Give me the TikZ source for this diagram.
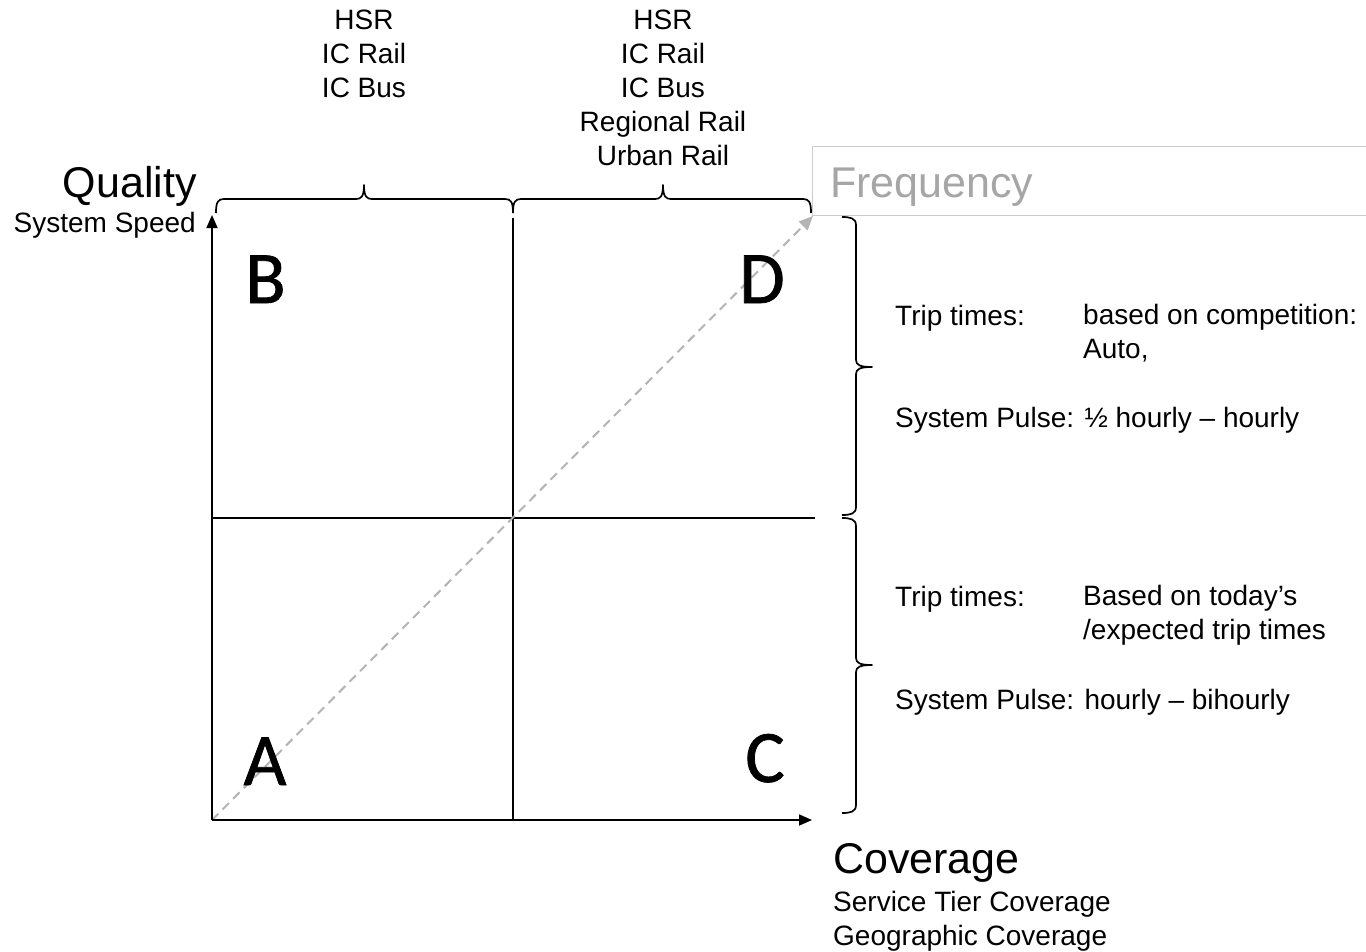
\documentclass[tikz,border=0pt]{standalone}
\usepackage{fontspec}
\setmainfont{Liberation Sans}
\newfontfamily\letterfont[FakeBold=1.0]{Carlito}
\usetikzlibrary{arrows.meta}
\definecolor{diaggray}{HTML}{B4B4B4}
\definecolor{freqgray}{HTML}{A6A6A6}
\definecolor{boxgray}{HTML}{CCCCCC}
\newcommand{\TopBrace}[3]{%
  \draw[bracepath] (#1,213) .. controls (#1,202) and ({#1+2},199) .. ({#1+8},199)
    -- ({#2-8},199) .. controls ({#2-3},199) and (#2,197) .. (#2,185)
    .. controls (#2,197) and ({#2+3},199) .. ({#2+8},199)
    -- ({#3-8},199) .. controls ({#3-2},199) and (#3,202) .. (#3,213);}
\newcommand{\RightBrace}[3]{%
  \draw[bracepath] (842,#1) .. controls (850,#1) and (856,{#1+1}) .. (856,{#1+8})
    -- (856,{#2-7}) .. controls (856,{#2-2}) and (860,#2) .. (872,#2)
    .. controls (860,#2) and (856,{#2+2}) .. (856,{#2+7})
    -- (856,{#3-8}) .. controls (856,{#3-1}) and (850,#3) .. (842,#3);}
\begin{document}
\begin{tikzpicture}[x=1pt,y=-1pt,
  axis/.style={line width=1.7pt, -{Triangle[length=13pt,width=11pt]}},
  gridline/.style={line width=1.7pt},
  bracepath/.style={line width=1.7pt, line join=round},
  diag/.style={draw=diaggray, line width=2pt, dash pattern=on 9pt off 6pt, -{Triangle[length=14pt,width=12pt]}},
  small/.style={font=\fontsize{28}{34}\selectfont, inner sep=0pt},
  big/.style={font=\fontsize{43}{50}\selectfont, inner sep=0pt},
  quad/.style={font=\letterfont\fontsize{74}{80}\selectfont, inner sep=0pt, anchor=base},
]
\useasboundingbox (0,0) rectangle (1366,951);
\fill[white] (0,0) rectangle (1366,951);

% axes and grid
\coordinate (O) at (212,820);
\coordinate (Ytip) at (212,215);
\coordinate (Xtip) at (812,820);
\coordinate (Mtop) at (513,218);
\coordinate (Mbot) at (513,820);
\coordinate (Mleft) at (212,518);
\coordinate (Mright) at (815,518);
\coordinate (Dtip) at (813,216);

\draw[gridline] (Mtop) -- (Mbot);
\draw[gridline] (Mleft) -- (Mright);
\draw[diag] (O) -- (Dtip);
\draw[axis] (O) -- (Ytip);
\draw[axis] (O) -- (Xtip);

% braces
\TopBrace{216}{364}{513}
\TopBrace{513}{663}{811}
\RightBrace{217}{367}{515}
\RightBrace{518}{665}{813}

% frequency box
\node[draw=boxgray, line width=1.2pt, anchor=north west, minimum width=600pt, minimum height=69pt, inner sep=0pt] (freqbox) at (812,146) {};
\node[big, text=freqgray, anchor=base west] (freq) at (830,197) {Frequency};

% quadrant letters
\node[quad] (qB) at (265.5,303) {B};
\node[quad] (qD) at (762,303) {D};
\node[quad] (qA) at (265,785) {A};
\node[quad] (qC) at (765,782) {C};

% axis labels
\node[big, anchor=base east] (quality) at (197,197) {Quality};
\node[small, anchor=base east] (speed) at (196,232) {System Speed};
\node[big, anchor=base west] (coverage) at (833,873) {Coverage};
\node[small, anchor=north west, align=left] (covsub) at (833,891) {Service Tier Coverage\\Geographic Coverage};

% top labels
\node[small, anchor=north, align=center] (col1) at (364,10) {HSR\\IC Rail\\IC Bus};
\node[small, anchor=north, align=center] (col2) at (663,10) {HSR\\IC Rail\\IC Bus\\Regional Rail\\Urban Rail};

% right texts
\node[small, anchor=base west] (tt1) at (895,325) {Trip times:};
\node[small, anchor=north west, align=left] (comp) at (1083,304.5) {based on competition:\\Auto,};
\node[small, anchor=base west] (sp1) at (895,427) {System Pulse: ½ hourly – hourly};
\node[small, anchor=base west] (tt2) at (895,606) {Trip times:};
\node[small, anchor=north west, align=left] (today) at (1083,585.5) {Based on today’s\\/expected trip times};
\node[small, anchor=base west] (sp2) at (895,709) {System Pulse: hourly – bihourly};
\end{tikzpicture}
\end{document}
